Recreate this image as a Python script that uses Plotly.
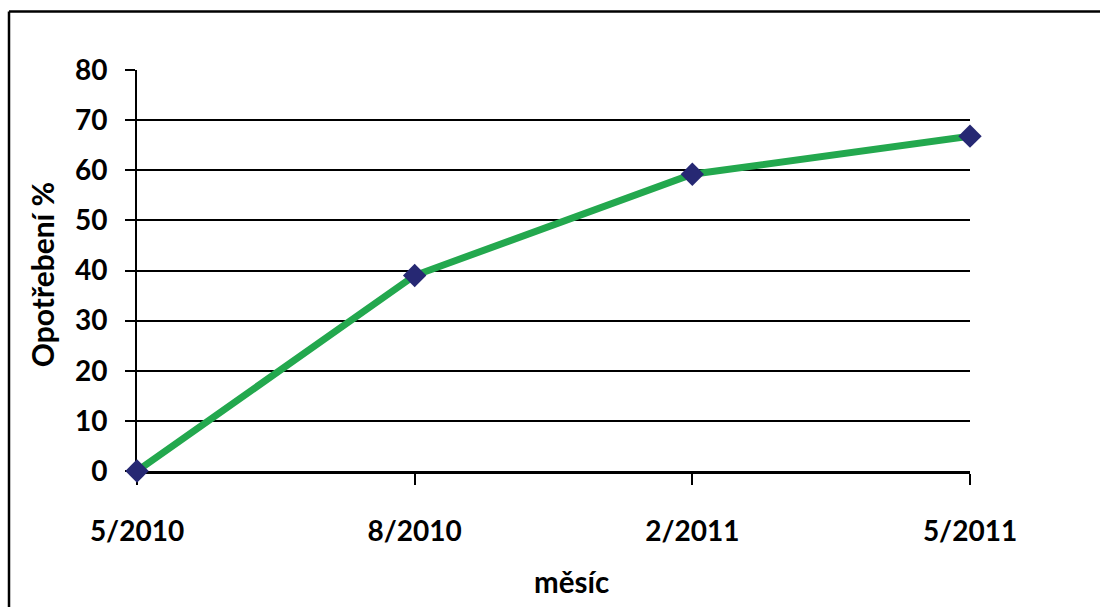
import plotly.graph_objects as go

# Wear over time
months = ["5/2010", "8/2010", "2/2011", "5/2011"]
wear_pct = [0, 39, 59.2, 66.8]
y_ticks = [0, 10, 20, 30, 40, 50, 60, 70, 80]

FONT = "Lato"
W, H = 1100, 607
L, R, T, B = 137, 970, 69.5, 471  # plot area edges in px


def px_x(px):
    return (px - L) / (R - L)


def px_y(py):
    return (B - py) / (B - T)


fig = go.Figure()
fig.add_trace(go.Scatter(
    x=list(range(len(months))),
    y=wear_pct,
    mode="lines+markers",
    line=dict(color="#23A84E", width=7),
    marker=dict(symbol="diamond", size=18, color="#262873",
                line=dict(width=0)),
    cliponaxis=False,
    hoverinfo="skip",
    showlegend=False,
))

fig.update_layout(
    width=W, height=H,
    margin=dict(l=L, r=W - R, t=T, b=H - B, pad=0),
    paper_bgcolor="white",
    plot_bgcolor="white",
    font=dict(family=FONT, size=28, color="black", weight="bold"),
    xaxis=dict(
        range=[0, len(months) - 1],
        tickmode="array",
        tickvals=list(range(len(months))),
        ticktext=months,
        showgrid=False,
        zeroline=False,
        showline=True, linecolor="black", linewidth=3,
        ticks="outside", ticklen=11, tickwidth=1.5, tickcolor="black",
        ticklabelstandoff=22,
        layer="below traces",
        tickfont=dict(family=FONT, size=28, color="black", weight="bold"),
    ),
    yaxis=dict(
        range=[0, 80],
        tickmode="array",
        tickvals=y_ticks,
        showgrid=True, gridcolor="black", gridwidth=2,
        zeroline=False,
        showline=True, linecolor="black", linewidth=2,
        ticks="outside", ticklen=10, tickwidth=2, tickcolor="black",
        ticklabelstandoff=12,
        layer="below traces",
        tickfont=dict(family=FONT, size=28, color="black", weight="bold"),
    ),
    annotations=[
        dict(text="Opotřebení %", textangle=-90, showarrow=False,
             xref="paper", yref="paper", x=px_x(42), y=px_y(275),
             xanchor="center", yanchor="middle",
             font=dict(family=FONT, size=30, color="black", weight="bold")),
        dict(text="měsíc", showarrow=False,
             xref="paper", yref="paper", x=px_x(571), y=px_y(582),
             xanchor="center", yanchor="middle",
             font=dict(family=FONT, size=29.5, color="black", weight="bold")),
    ],
    shapes=[
        # chart frame (left and top edges visible)
        dict(type="line", xref="paper", yref="paper",
             x0=px_x(9), y0=px_y(11), x1=px_x(1110), y1=px_y(11),
             line=dict(color="black", width=2.5)),
        dict(type="line", xref="paper", yref="paper",
             x0=px_x(9), y0=px_y(11), x1=px_x(9), y1=px_y(620),
             line=dict(color="black", width=2.5)),
    ],
)

fig.write_html("out.html")
